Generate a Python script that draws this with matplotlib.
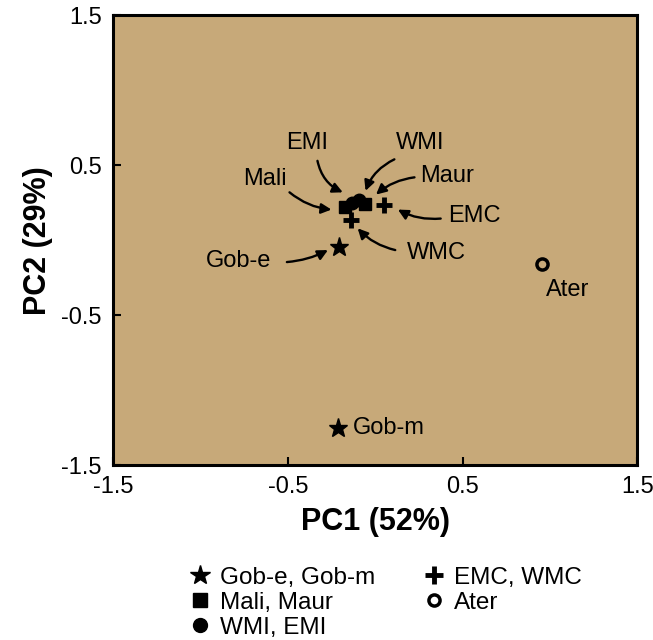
import matplotlib
matplotlib.use('Agg')
import matplotlib.pyplot as plt
from matplotlib.lines import Line2D

plt.rcParams['font.family'] = ['Liberation Sans', 'DejaVu Sans']

# PCA scores
star_x = [-0.206, -0.212]      # Gob-e, Gob-m
star_y = [-0.047, -1.253]
square_x = [-0.172, -0.057]    # Mali, Maur
square_y = [0.220, 0.240]
circle_x = [-0.092, -0.132]    # WMI, EMI
circle_y = [0.267, 0.247]
plus_x = [0.051, -0.138]       # EMC, WMC
plus_y = [0.233, 0.133]
ater_x = [0.956]
ater_y = [-0.160]

ticks = [-1.5, -0.5, 0.5, 1.5]
tick_labels = ['-1.5', '-0.5', '0.5', '1.5']

fig = plt.figure(figsize=(6.53, 6.4), dpi=100)
ax = fig.add_axes([0.173, 0.273, 0.803, 0.703])
ax.set_facecolor('#C7A979')

ax.plot(star_x, star_y, '*', color='black', ms=14, ls='none')
ax.plot(square_x, square_y, 's', color='black', ms=9, ls='none')
ax.plot(circle_x, circle_y, 'o', color='black', ms=9, ls='none')
ax.plot(plus_x, plus_y, '+', color='black', ms=12, mew=3.5, ls='none')
ax.plot(ater_x, ater_y, 'o', mfc='none', mec='black', ms=8, mew=2.5, ls='none')

fs = 17
arrow = dict(arrowstyle='-|>', color='black', lw=1.7, mutation_scale=15,
             shrinkA=0, shrinkB=0)

# labels with arrows: (text, text xy, arrow tail, arrow head, curvature)
ann = [
    ('EMI', (-0.39, 0.65), (-0.33, 0.53), (-0.185, 0.32), 0.25),
    ('WMI', (0.26, 0.65), (0.11, 0.54), (-0.055, 0.33), 0.2),
    ('Maur', (0.41, 0.43), (0.225, 0.42), (0.005, 0.305), 0.15),
    ('Mali', (-0.63, 0.41), (-0.49, 0.32), (-0.25, 0.205), 0.15),
    ('EMC', (0.57, 0.16), (0.375, 0.145), (0.13, 0.205), -0.15),
    ('WMC', (0.35, -0.085), (0.115, -0.065), (-0.10, 0.08), -0.15),
    ('Gob-e', (-0.78, -0.14), (-0.505, -0.145), (-0.27, -0.065), 0.1),
]
for txt, pos, tail, head, rad in ann:
    ax.text(pos[0], pos[1], txt, fontsize=fs, ha='center', va='center')
    ax.annotate('', xy=head, xytext=tail,
                arrowprops=dict(arrow, connectionstyle='arc3,rad=%s' % rad))

ax.text(1.10, -0.33, 'Ater', fontsize=fs, ha='center', va='center')
ax.text(-0.13, -1.253, 'Gob-m', fontsize=fs, ha='left', va='center')

ax.set_xlim(-1.5, 1.5)
ax.set_ylim(-1.5, 1.5)
ax.set_xticks(ticks)
ax.set_xticklabels(tick_labels)
ax.set_yticks(ticks)
ax.set_yticklabels(tick_labels)
ax.tick_params(direction='in', length=6, width=1.5, labelsize=fs, pad=8)
for s in ax.spines.values():
    s.set_linewidth(2.2)

ax.set_xlabel('PC1 (52%)', fontsize=22, fontweight='bold', labelpad=6)
ax.set_ylabel('PC2 (29%)', fontsize=22, fontweight='bold', labelpad=6)

handles = [
    Line2D([], [], marker='*', color='black', ms=15, ls='none'),
    Line2D([], [], marker='s', color='black', ms=10, ls='none'),
    Line2D([], [], marker='o', color='black', ms=10, ls='none'),
    Line2D([], [], marker='+', color='black', ms=13, mew=3.5, ls='none'),
    Line2D([], [], marker='o', mfc='none', mec='black', ms=8, mew=2.5, ls='none'),
]
labels = ['Gob-e, Gob-m', 'Mali, Maur', 'WMI, EMI', 'EMC, WMC', 'Ater']
fig.legend(handles, labels, ncol=2, frameon=False, fontsize=17.5,
           loc='upper left', bbox_to_anchor=(0.275, 0.13),
           handlelength=0.9, handletextpad=0.35, columnspacing=2.0,
           labelspacing=0.13, borderaxespad=0)

fig.savefig('out.png', dpi=100)
